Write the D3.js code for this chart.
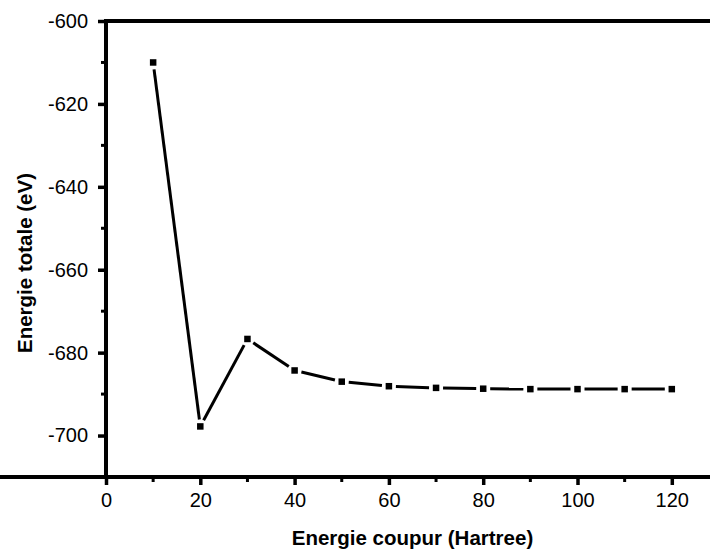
<!DOCTYPE html>
<html><head><meta charset="utf-8">
<script src="https://cdn.jsdelivr.net/npm/d3@7"></script>
<style>body{margin:0;background:#fff}svg{display:block}text{font-family:Arial,"Liberation Sans",sans-serif}</style>
</head><body>
<svg id="c" width="710" height="553"></svg>
<script>
const cutoff = [10,20,30,40,50,60,70,80,90,100,110,120];
const energy = [-610.0,-697.8,-676.7,-684.3,-687.0,-688.1,-688.5,-688.7,-688.8,-688.8,-688.8,-688.8];
const xTicks = [0,20,40,60,80,100,120];
const xMinor = [10,30,50,70,90,110];
const yTicks = [-600,-620,-640,-660,-680,-700];
const yMinor = [-610,-630,-650,-670,-690];
const xTitle = "Energie coupur (Hartree)";
const yTitle = "Energie totale (eV)";

const svg = d3.select("#c");
const L = 106, T = 21, B = 477;
const x = d3.scaleLinear().domain([0,130]).range([L, L + 130*4.715]);
const y = d3.scaleLinear().domain([-600,-710]).range([T, B]);

svg.append("line").attr("x1",L).attr("x2",x(130)).attr("y1",T).attr("y2",T).attr("stroke","#000").attr("stroke-width",4);
svg.append("g").selectAll("line").data(yMinor).join("line")
  .attr("x1",L-5).attr("x2",L).attr("y1",d=>y(d)).attr("y2",d=>y(d)).attr("stroke","#000").attr("stroke-width",3);
svg.append("g").selectAll("line").data(xMinor).join("line")
  .attr("y1",B).attr("y2",B+5).attr("x1",d=>x(d)).attr("x2",d=>x(d)).attr("stroke","#000").attr("stroke-width",3);

const fmt = d => String(d);
const ya = svg.append("g").attr("transform",`translate(${L},0)`)
  .call(d3.axisLeft(y).tickValues(yTicks).tickFormat(fmt).tickSize(8).tickPadding(10).tickSizeOuter(0));
const xa = svg.append("g").attr("transform",`translate(0,${B})`)
  .call(d3.axisBottom(x).tickValues(xTicks).tickFormat(fmt).tickSize(8).tickPadding(8).tickSizeOuter(0));
[ya,xa].forEach(g=>{
  g.select(".domain").attr("stroke","#000").attr("stroke-width",4);
  g.selectAll(".tick line").attr("stroke","#000").attr("stroke-width",3.5);
  g.selectAll(".tick text").attr("fill","#000").attr("font-size",20).attr("font-family","Arial, 'Liberation Sans', sans-serif");
});
ya.select(".domain").attr("d",`M0,${T-2}V${B+2}`);
xa.select(".domain").attr("d",`M-2,0H${x(130)}`);

const pts = cutoff.map((c,i)=>[x(c), y(energy[i])]);
const gap = 7;
const segs = d3.pairs(pts).map(([a,b])=>{
  const dx=b[0]-a[0], dy=b[1]-a[1], len=Math.hypot(dx,dy);
  const ux=dx/len, uy=dy/len;
  return [a[0]+ux*gap, a[1]+uy*gap, b[0]-ux*gap, b[1]-uy*gap];
});
svg.append("g").selectAll("line").data(segs).join("line")
  .attr("x1",d=>d[0]).attr("y1",d=>d[1]).attr("x2",d=>d[2]).attr("y2",d=>d[3])
  .attr("stroke","#000").attr("stroke-width",3);
const ms = 6.5;
svg.append("g").selectAll("rect").data(pts).join("rect")
  .attr("x",d=>d[0]-ms/2).attr("y",d=>d[1]-ms/2).attr("width",ms).attr("height",ms).attr("fill","#000");

svg.append("text").attr("x",(x(0)+x(130))/2).attr("y",545).attr("text-anchor","middle")
  .attr("font-size",20.5).attr("font-weight","bold").text(xTitle);
svg.append("text").attr("transform","translate(32,263) rotate(-90)").attr("text-anchor","middle")
  .attr("font-size",20.5).attr("font-weight","bold").text(yTitle);
</script>
</body></html>
